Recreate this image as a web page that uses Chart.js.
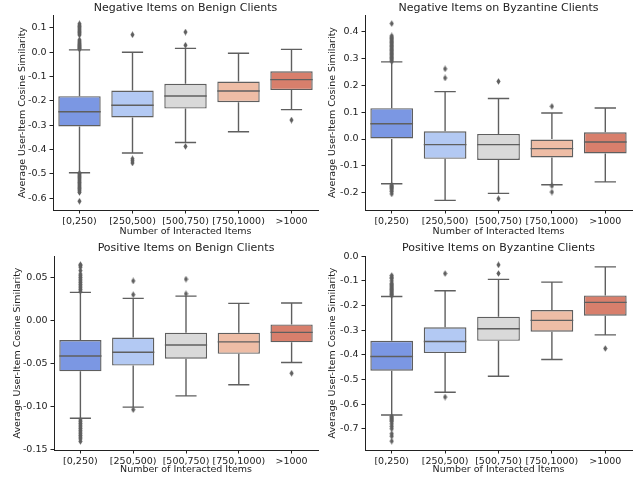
<!DOCTYPE html>
<html>
<head>
<meta charset="utf-8">
<script src="https://cdn.jsdelivr.net/npm/chart.js@4.4.0/dist/chart.umd.min.js"></script>
<style>
  body { margin: 0; background: #fff; width: 643px; height: 481px; position: relative; overflow: hidden; }
  .cell { position: absolute; }
</style>
</head>
<body>
<div class="cell" style="left:0;top:0"><canvas id="c1" width="322" height="240"></canvas></div>
<div class="cell" style="left:322px;top:0"><canvas id="c2" width="321" height="240"></canvas></div>
<div class="cell" style="left:0;top:240px"><canvas id="c3" width="322" height="241"></canvas></div>
<div class="cell" style="left:322px;top:240px"><canvas id="c4" width="321" height="241"></canvas></div>
<script>
// categories (x axis)
const groups = ["[0,250)", "[250,500)", "[500,750)", "[750,1000)", ">1000"];
const boxColors = ["#7b97e3", "#b3c9f3", "#d9d9d9", "#eebda6", "#d87f6c"];

// Negative items on benign clients
const nbLow  = [-0.495, -0.414, -0.371, -0.327, -0.236];
const nbQ1   = [-0.305, -0.268, -0.232, -0.206, -0.156];
const nbMed  = [-0.245, -0.218, -0.180, -0.160, -0.113];
const nbQ3   = [-0.181, -0.158, -0.130, -0.121, -0.079];
const nbHigh = [0.009, -0.001, 0.015, -0.005, 0.011];
const nbOut = [
  [0.012, 0.015, 0.018, 0.021, 0.024, 0.027, 0.031, 0.035, 0.04, 0.045, 0.05, 0.07, 0.075, 0.08, 0.085, 0.09, 0.095, 0.1, 0.105, 0.11, 0.116,
   -0.497, -0.5, -0.505, -0.51, -0.515, -0.52, -0.525, -0.53, -0.535, -0.54, -0.545, -0.55, -0.555, -0.56, -0.565, -0.57, -0.576, -0.612],
  [0.071, -0.438, -0.446, -0.455],
  [0.082, 0.028, -0.387],
  [],
  [-0.279]
];
const nbTicks = [0.1, 0.0, -0.1, -0.2, -0.3, -0.4, -0.5, -0.6];

// Negative items on byzantine clients
const nzLow  = [-0.167, -0.229, -0.203, -0.171, -0.160];
const nzQ1   = [0.0, -0.074, -0.078, -0.069, -0.054];
const nzMed  = [0.057, -0.021, -0.021, -0.036, -0.011];
const nzQ3   = [0.115, 0.029, 0.019, 0.0, 0.025];
const nzHigh = [0.288, 0.177, 0.151, 0.097, 0.116];
const nzOut = [
  [0.29, 0.295, 0.3, 0.305, 0.31, 0.315, 0.32, 0.325, 0.33, 0.335, 0.34, 0.345, 0.35, 0.355, 0.36, 0.365, 0.37, 0.375, 0.38, 0.385, 0.431,
   -0.172, -0.176, -0.18, -0.184, -0.19, -0.196, -0.205],
  [0.262, 0.228],
  [0.215, -0.223],
  [0.122, -0.175, -0.198],
  []
];
const nzTicks = [0.4, 0.3, 0.2, 0.1, 0.0, -0.1, -0.2];

// Positive items on benign clients
const pbLow  = [-0.114, -0.101, -0.088, -0.075, -0.049];
const pbQ1   = [-0.0593, -0.0527, -0.0446, -0.039, -0.0256];
const pbMed  = [-0.0415, -0.0372, -0.0287, -0.025, -0.014];
const pbQ3   = [-0.0229, -0.020, -0.0143, -0.0143, -0.0047];
const pbHigh = [0.0326, 0.0256, 0.0283, 0.0198, 0.0202];
const pbOut = [
  [0.034, 0.036, 0.038, 0.04, 0.042, 0.044, 0.046, 0.048, 0.05, 0.052, 0.054, 0.058, 0.062, 0.064, 0.065,
   -0.116, -0.118, -0.12, -0.122, -0.124, -0.126, -0.128, -0.13, -0.132, -0.134, -0.136, -0.138, -0.141],
  [0.046, 0.030, -0.104],
  [0.048, 0.031],
  [],
  [-0.0616]
];
const pbTicks = [0.05, 0.0, -0.05, -0.10, -0.15];

// Positive items on byzantine clients
const pzLow  = [-0.644, -0.552, -0.487, -0.419, -0.319];
const pzQ1   = [-0.464, -0.393, -0.343, -0.306, -0.241];
const pzMed  = [-0.407, -0.346, -0.294, -0.260, -0.187];
const pzQ3   = [-0.343, -0.288, -0.245, -0.218, -0.159];
const pzHigh = [-0.163, -0.140, -0.094, -0.105, -0.043];
const pzOut = [
  [-0.078, -0.085, -0.09, -0.1, -0.11, -0.115, -0.12, -0.125, -0.13, -0.135, -0.14, -0.145, -0.15, -0.155, -0.16,
   -0.65, -0.655, -0.66, -0.665, -0.67, -0.68, -0.69, -0.7, -0.72, -0.73, -0.75],
  [-0.070, -0.571],
  [-0.035, -0.070],
  [],
  [-0.374]
];
const pzTicks = [0.0, -0.1, -0.2, -0.3, -0.4, -0.5, -0.6, -0.7];

Chart.defaults.font.family = "'DejaVu Sans', sans-serif";
Chart.defaults.font.size = 9.5;
Chart.defaults.color = "#222";

const lineColor = "#5f5f5f";
const ink = "#222";

// thin diamond marker like matplotlib 'd'
const diamond = document.createElement("canvas");
diamond.width = 5; diamond.height = 7;
(function () {
  const g = diamond.getContext("2d");
  g.fillStyle = "#5f5f5f";
  g.beginPath();
  g.moveTo(2.5, 0.3); g.lineTo(4.6, 3.5); g.lineTo(2.5, 6.7); g.lineTo(0.4, 3.5);
  g.closePath(); g.fill();
})();

function fmt(v, dec) {
  if (Math.abs(v) < 1e-9) v = 0;
  const s = Math.abs(v).toFixed(dec);
  return v < 0 ? "-" + s : s;
}

function makeBox(id, s) {
  // whiskers, caps and medians drawn from the bar geometry and y scale
  const whiskers = {
    id: "whiskers" + id,
    beforeDatasetsDraw(chart) {
      const meta = chart.getDatasetMeta(0);
      const y = chart.scales.y;
      const ctx = chart.ctx;
      ctx.save();
      ctx.strokeStyle = lineColor;
      ctx.lineWidth = 1.4;
      meta.data.forEach((bar, i) => {
        const cx = bar.x, hw = bar.width / 4;
        ctx.beginPath();
        ctx.moveTo(cx, y.getPixelForValue(s.q3[i]));
        ctx.lineTo(cx, y.getPixelForValue(s.hi[i]));
        ctx.moveTo(cx, y.getPixelForValue(s.q1[i]));
        ctx.lineTo(cx, y.getPixelForValue(s.lo[i]));
        ctx.moveTo(cx - hw, y.getPixelForValue(s.hi[i]));
        ctx.lineTo(cx + hw, y.getPixelForValue(s.hi[i]));
        ctx.moveTo(cx - hw, y.getPixelForValue(s.lo[i]));
        ctx.lineTo(cx + hw, y.getPixelForValue(s.lo[i]));
        ctx.stroke();
      });
      ctx.restore();
    },
    afterDatasetDraw(chart, args) {
      if (args.index !== 0) return;
      const meta = chart.getDatasetMeta(0);
      const y = chart.scales.y;
      const ctx = chart.ctx;
      ctx.save();
      ctx.strokeStyle = lineColor;
      ctx.lineWidth = 1.4;
      meta.data.forEach((bar, i) => {
        const py = y.getPixelForValue(s.med[i]);
        ctx.beginPath();
        ctx.moveTo(bar.x - bar.width / 2, py);
        ctx.lineTo(bar.x + bar.width / 2, py);
        ctx.stroke();
      });
      ctx.restore();
    }
  };

  const outPts = [];
  s.out.forEach((arr, i) => arr.forEach(v => outPts.push({ x: groups[i], y: v })));

  return new Chart(document.getElementById(id), {
    type: "bar",
    plugins: [whiskers],
    data: {
      labels: groups,
      datasets: [
        {
          data: s.q1.map((v, i) => [v, s.q3[i]]),
          backgroundColor: boxColors,
          borderColor: lineColor,
          borderWidth: 1.4,
          borderSkipped: false,
          categoryPercentage: 0.8,
          barPercentage: 1.0
        },
        {
          type: "scatter",
          data: outPts,
          pointStyle: diamond,
          pointRadius: 3,
          pointHoverRadius: 3
        }
      ]
    },
    options: {
      responsive: false,
      animation: false,
      events: [],
      layout: { padding: { left: 0, right: s.padRight, top: 0, bottom: 0 } },
      plugins: {
        legend: { display: false },
        tooltip: { enabled: false },
        title: { display: false }
      },
      scales: {
        // top axis only carries the subplot title, centred over the plot area
        top: {
          type: "category",
          position: "top",
          grid: { display: false },
          border: { display: false },
          ticks: { display: false },
          title: { display: true, text: s.title, color: ink, font: { size: 11 }, padding: { top: 1.2, bottom: 0 } },
          afterFit(scale) { scale.height = s.topHeight; }
        },
        x: {
          type: "category",
          offset: true,
          grid: { display: true, drawOnChartArea: false, drawTicks: true, tickLength: 3.5, offset: false, color: ink },
          border: { display: true, color: ink, width: 1 },
          ticks: { color: ink, padding: 2, maxRotation: 0, autoSkip: false },
          title: { display: true, text: "Number of Interacted Items", color: ink, padding: { top: 0, bottom: s.xTitleBottom } },
          afterFit(scale) { scale.height = s.xHeight; }
        },
        y: {
          min: s.min,
          max: s.max,
          grid: { display: true, drawOnChartArea: false, drawTicks: true, tickLength: 3.5, color: ink },
          border: { display: true, color: ink, width: 1 },
          afterBuildTicks(scale) { scale.ticks = s.ticks.map(v => ({ value: v })); },
          ticks: { color: ink, padding: 3, autoSkip: false, callback: v => fmt(v, s.dec) },
          title: { display: true, text: "Average User-Item Cosine Similarity", color: ink, padding: { top: s.yTitlePad, bottom: 0 } },
          afterFit(scale) { scale.width = s.yWidth; }
        }
      }
    }
  });
}

makeBox("c1", {
  title: "Negative Items on Benign Clients",
  lo: nbLow, q1: nbQ1, med: nbMed, q3: nbQ3, hi: nbHigh, out: nbOut, ticks: nbTicks, dec: 1,
  min: -0.648, max: 0.152, yWidth: 53, padRight: 1, yTitlePad: 17.3,
  topHeight: 15, xHeight: 30, xTitleBottom: 2.3
});
makeBox("c2", {
  title: "Negative Items on Byzantine Clients",
  lo: nzLow, q1: nzQ1, med: nzMed, q3: nzQ3, hi: nzHigh, out: nzOut, ticks: nzTicks, dec: 1,
  min: -0.265, max: 0.463, yWidth: 43, padRight: 11, yTitlePad: 5.3,
  topHeight: 15, xHeight: 30, xTitleBottom: 2.3
});
makeBox("c3", {
  title: "Positive Items on Benign Clients",
  lo: pbLow, q1: pbQ1, med: pbMed, q3: pbQ3, hi: pbHigh, out: pbOut, ticks: pbTicks, dec: 2,
  min: -0.151, max: 0.075, yWidth: 54, padRight: 1, yTitlePad: 12.3,
  topHeight: 16, xHeight: 31, xTitleBottom: 5.3
});
makeBox("c4", {
  title: "Positive Items on Byzantine Clients",
  lo: pzLow, q1: pzQ1, med: pzMed, q3: pzQ3, hi: pzHigh, out: pzOut, ticks: pzTicks, dec: 1,
  min: -0.786, max: 0.001, yWidth: 43, padRight: 11, yTitlePad: 5.3,
  topHeight: 16, xHeight: 31, xTitleBottom: 5.3
});
</script>
</body>
</html>
